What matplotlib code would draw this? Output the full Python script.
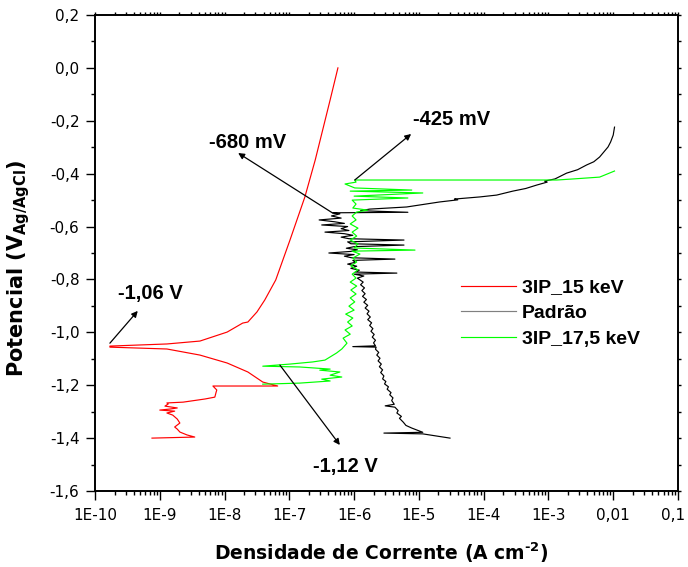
import numpy as np
import matplotlib
matplotlib.use('Agg')
import matplotlib.pyplot as plt
import matplotlib.transforms as mtransforms
from matplotlib.ticker import FixedLocator, LogLocator, NullFormatter, MultipleLocator, FuncFormatter

# curvas de polarizacao: log10(J) e potencial (V vs Ag/AgCl)
red_logj = [-9.12, -8.46, -8.58, -8.69, -8.73, -8.77, -8.69, -8.73, -8.80, -8.89, -8.77,
            -9.00, -8.84, -8.73, -8.92, -8.87, -8.89, -8.64, -8.30, -8.15, -8.13, -8.12,
            -8.18, -7.18, -7.41, -7.64, -7.96, -8.38, -8.89, -9.77, -9.77, -8.89, -8.38,
            -7.96, -7.72, -7.64, -7.50, -7.38, -7.21, -6.99, -6.76, -6.60, -6.37, -6.25]
red_v = [-1.400, -1.396, -1.388, -1.377, -1.366, -1.358, -1.343, -1.328, -1.313, -1.305, -1.298,
         -1.294, -1.290, -1.286, -1.279, -1.271, -1.267, -1.264, -1.252, -1.245, -1.226, -1.218,
         -1.203, -1.203, -1.188, -1.150, -1.116, -1.086, -1.063, -1.056, -1.052, -1.044, -1.033,
         -0.999, -0.965, -0.961, -0.923, -0.878, -0.802, -0.651, -0.488, -0.348, -0.121, 0.0]

blk_logj = [-4.52, -4.94, -5.54, -4.94, -5.11, -5.20, -5.24, -5.30, -5.27, -5.34, -5.32, -5.37,
            -5.52, -5.38, -5.42, -5.40, -5.45, -5.43, -5.49, -5.47, -5.53, -5.51, -5.56, -5.54,
            -5.59, -5.56, -5.61, -5.58, -5.63, -5.60, -5.65, -5.62, -5.67, -5.66, -6.02, -5.67,
            -5.70, -5.67, -5.72, -5.69, -5.74, -5.71, -5.76, -5.73, -5.79, -5.75, -5.80, -5.77,
            -5.83, -5.79, -5.85, -5.81, -5.87, -5.83, -5.88, -5.84, -5.90, -5.86, -5.92,
            -5.95, -5.85, -6.00, -5.34, -5.98, -5.92, -6.05, -5.96, -6.10, -5.98, -6.02, -5.37,
            -6.04, -6.15, -6.00, -6.39, -6.05, -5.95, -6.12, -6.00, -5.23, -6.05, -6.10, -5.23,
            -6.08, -6.20, -6.02, -6.15, -6.45, -6.08, -6.20, -6.10, -6.50, -6.15, -6.30, -6.54,
            -6.20, -6.35, -6.22, -6.33, -5.17, -5.90, -5.76,
            -5.19, -4.68, -4.40, -4.45, -4.06, -3.80, -3.55, -3.35, -3.18, -3.02, -3.06, -2.90,
            -2.72, -2.55, -2.41, -2.30, -2.21, -2.08, -2.04, -2.00, -1.98]
blk_v = [-1.400, -1.384, -1.381, -1.378, -1.362, -1.352, -1.340, -1.325, -1.318, -1.305, -1.296, -1.283,
         -1.278, -1.272, -1.258, -1.248, -1.236, -1.228, -1.215, -1.206, -1.195, -1.186, -1.176, -1.165,
         -1.152, -1.142, -1.130, -1.120, -1.108, -1.098, -1.086, -1.076, -1.064, -1.056, -1.054, -1.051,
         -1.040, -1.030, -1.018, -1.008, -0.996, -0.986, -0.974, -0.964, -0.952, -0.942, -0.930, -0.920,
         -0.908, -0.898, -0.886, -0.876, -0.864, -0.854, -0.842, -0.832, -0.820, -0.810, -0.800,
         -0.795, -0.787, -0.780, -0.776, -0.772, -0.765, -0.758, -0.750, -0.742, -0.735, -0.728, -0.723,
         -0.718, -0.712, -0.706, -0.700, -0.694, -0.688, -0.682, -0.676, -0.670, -0.665, -0.658, -0.651,
         -0.646, -0.640, -0.633, -0.627, -0.621, -0.615, -0.608, -0.600, -0.594, -0.588, -0.582, -0.575,
         -0.568, -0.560, -0.552, -0.548, -0.546, -0.540, -0.534,
         -0.526, -0.507, -0.499, -0.496, -0.488, -0.481, -0.466, -0.456, -0.443, -0.432, -0.428, -0.420,
         -0.398, -0.385, -0.367, -0.355, -0.337, -0.299, -0.280, -0.254, -0.224]

grn_logj = [-7.41, -6.84, -6.37, -6.50, -6.19, -6.37, -6.22, -6.53, -6.37, -6.84, -7.41, -6.99,
            -6.64, -6.45, -6.37, -6.27, -6.19, -6.11, -6.17, -6.06, -6.14, -6.03, -6.10, -6.02,
            -6.13, -6.00, -6.08, -5.99, -6.06, -5.97, -6.05, -5.96, -6.06, -5.97, -6.03, -5.94,
            -6.05, -5.96, -6.02, -5.91, -6.03, -5.06, -6.00, -5.94, -6.06, -5.96, -6.03, -5.94,
            -6.06, -5.97, -6.03, -5.96, -5.79, -6.02, -5.97, -6.03, -5.17, -6.00, -4.94, -6.06,
            -5.11, -5.99, -6.14, -5.97, -5.99, -2.87, -2.62, -2.21, -1.98]
grn_v = [-1.196, -1.192, -1.184, -1.177, -1.169, -1.162, -1.150, -1.143, -1.139, -1.131, -1.128, -1.120,
         -1.112, -1.105, -1.093, -1.078, -1.063, -1.041, -1.022, -1.007, -0.991, -0.976, -0.961, -0.946,
         -0.931, -0.916, -0.901, -0.885, -0.870, -0.855, -0.840, -0.825, -0.810, -0.795, -0.780, -0.764,
         -0.749, -0.734, -0.719, -0.704, -0.693, -0.689, -0.681, -0.666, -0.651, -0.636, -0.621, -0.606,
         -0.590, -0.575, -0.560, -0.545, -0.538, -0.530, -0.515, -0.500, -0.492, -0.485, -0.473, -0.466,
         -0.462, -0.454, -0.439, -0.432, -0.424, -0.424, -0.420, -0.413, -0.390]

series_names = ['3IP_15 keV', 'Padr\u00e3o', '3IP_17,5 keV']
series_colors = ['#ff0000', '#000000', '#00ff00']

# anotacoes (log10 J, V)
ann_text = ['-680 mV', '-425 mV', '-1,06 V', '-1,12 V']
ann_tail = [(-6.33, -0.549), (-5.99, -0.424), (-9.77, -1.041), (-7.145, -1.124)]
ann_head = [(-7.79, -0.322), (-5.12, -0.250), (-9.34, -0.919), (-6.22, -1.426)]
ann_pos = [(-7.64, -0.284), (-4.49, -0.197), (-9.15, -0.855), (-6.13, -1.506)]

xtick_vals = [1e-10, 1e-9, 1e-8, 1e-7, 1e-6, 1e-5, 1e-4, 1e-3, 1e-2, 1e-1]
xtick_labels = ['1E-10', '1E-9', '1E-8', '1E-7', '1E-6', '1E-5', '1E-4', '1E-3', '0,01', '0,1']

lab_font = 'Liberation Sans'

fig = plt.figure(figsize=(6.88, 5.67), dpi=100)
ax = fig.add_axes([95 / 688, 1 - 491 / 567, 583 / 688, 476 / 567])

data = [(red_logj, red_v), (blk_logj, blk_v), (grn_logj, grn_v)]
for (lj, v), name, c in zip(data, series_names, series_colors):
    ax.plot(10 ** np.array(lj), v, color=c, lw=0.85, label=name)

ax.set_xscale('log')
ax.set_xlim(1e-10, 1e-1)
ax.set_ylim(-1.6, 0.2)

ax.xaxis.set_major_locator(FixedLocator(xtick_vals))
ax.set_xticklabels(xtick_labels)
ax.xaxis.set_minor_locator(LogLocator(base=10, subs=np.arange(2, 10), numticks=20))
ax.xaxis.set_minor_formatter(NullFormatter())
ax.yaxis.set_major_locator(MultipleLocator(0.2))
ax.yaxis.set_minor_locator(MultipleLocator(0.1))
ax.yaxis.set_major_formatter(FuncFormatter(lambda v, p: ('%.1f' % (0.0 if abs(v) < 1e-9 else v)).replace('.', ',')))

ax.tick_params(which='major', direction='out', length=6.2, width=1.0, labelsize=11, pad=5)
ax.tick_params(which='minor', direction='out', length=3.2, width=1.0)
ax.tick_params(axis='x', which='major', pad=6)
ax.tick_params(axis='y', which='both', right=True, labelright=False)
ax.tick_params(axis='x', which='both', top=True, labeltop=False)
# ticks pequenos no topo e a direita
for t in ax.yaxis.get_major_ticks() + ax.yaxis.get_minor_ticks():
    t.tick2line.set_markersize(2.5)
for t in ax.xaxis.get_major_ticks() + ax.xaxis.get_minor_ticks():
    t.tick2line.set_markersize(2.5)

# ultimo rotulo (0,1) puxado um pouco p/ esquerda, como no original
last = ax.get_xticklabels()[-1]
last.set_transform(last.get_transform() + mtransforms.ScaledTranslation(-5 / 100, 0, fig.dpi_scale_trans))

for sp in ax.spines.values():
    sp.set_linewidth(1.4)

ax.set_xlabel('Densidade de Corrente (A cm$^{\\mathbf{\u20102}}$)', fontsize=13.5, fontweight='bold')
ax.set_ylabel(r'Potencial (V$_{\mathbf{Ag/AgCl}}$)', fontsize=15, fontweight='bold')
ax.xaxis.set_label_coords(0.491, -0.105)
ax.yaxis.set_label_coords(-0.108, 0.467)

for txt, tail, head, pos in zip(ann_text, ann_tail, ann_head, ann_pos):
    ax.annotate('', xy=(10 ** head[0], head[1]), xytext=(10 ** tail[0], tail[1]),
                arrowprops=dict(arrowstyle='-|>', color='k', lw=0.9, mutation_scale=9,
                                shrinkA=0, shrinkB=0))
    ax.text(10 ** pos[0], pos[1], txt, ha='center', va='center', fontsize=14.5,
            fontweight='bold', family=lab_font)

leg = ax.legend(loc='upper left', bbox_to_anchor=(0.628, 0.446), frameon=False,
                prop={'family': lab_font, 'weight': 'bold', 'size': 14},
                handlelength=2.83, handletextpad=0.3, borderpad=0, borderaxespad=0,
                labelspacing=0.42)
leg.get_lines()[1].set_color('0.5')

fig.savefig('out.png', dpi=100)
